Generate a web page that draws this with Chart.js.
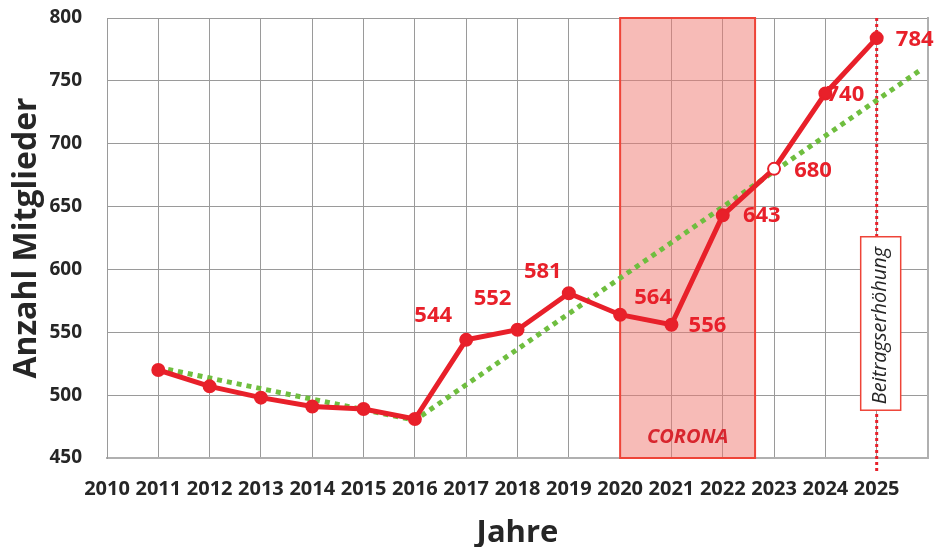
<!DOCTYPE html>
<html>
<head>
<meta charset="utf-8">
<script src="https://cdn.jsdelivr.net/npm/chart.js@4.4.1/dist/chart.umd.min.js"></script>
<style>
  html, body { margin: 0; padding: 0; background: #fff; }
  #wrap { width: 945px; height: 547px; }
</style>
</head>
<body>
<div id="wrap"><canvas id="chart"></canvas></div>
<script>
const years = [2011, 2012, 2013, 2014, 2015, 2016, 2017, 2018, 2019, 2020, 2021, 2022, 2023, 2024, 2025];
const members = [520, 507, 498, 491, 489, 481, 544, 552, 581, 564, 556, 643, 680, 740, 784];
const labelledYears = [2017, 2018, 2019, 2020, 2021, 2022, 2023, 2024, 2025];
const trendYears = [2011, 2016, 2025.83];
const trendValues = [522, 480, 758];
const coronaYears = [2020, 2022.63];
const increaseYear = 2025;

const red = "#e8202a";
const green = "#6fbe3f";
const ink = "#262626";
const font = "'Open Sans', 'DejaVu Sans', sans-serif";

// where each value label sits relative to its point
const labelOffsets = {
  2017: [-33, -24], 2018: [-25, -31], 2019: [-26, -22], 2020: [33, -17],
  2021: [36, 1], 2022: [39, 0], 2023: [39, 2], 2024: [20, 1], 2025: [38, 2],
};

const noPad = (s) => {
  s.paddingTop = 0;
  s.paddingBottom = 0;
  s.paddingLeft = 0;
  s.paddingRight = 0;
};

const overlays = {
  id: "overlays",
  beforeDatasetsDraw(chart) {
    const { ctx, chartArea: a, scales: { x, y } } = chart;
    const x0 = x.getPixelForValue(coronaYears[0]);
    const x1 = x.getPixelForValue(coronaYears[1]);
    ctx.save();
    ctx.fillStyle = "rgba(240, 120, 112, 0.5)";
    ctx.fillRect(x0, a.top, x1 - x0, a.bottom - a.top);
    ctx.strokeStyle = "#ee4438";
    ctx.lineWidth = 2;
    ctx.strokeRect(x0, a.top, x1 - x0, a.bottom - a.top);
    ctx.fillStyle = "#d8262e";
    ctx.font = `italic bold 20px ${font}`;
    ctx.textAlign = "center";
    ctx.textBaseline = "middle";
    ctx.fillText("CORONA", (x0 + x1) / 2, a.bottom - 21);

    const xv = x.getPixelForValue(increaseYear);
    ctx.strokeStyle = red;
    ctx.lineWidth = 3;
    ctx.setLineDash([3, 3]);
    ctx.beginPath();
    ctx.moveTo(xv, a.top);
    ctx.lineTo(xv, a.bottom + 14);
    ctx.stroke();
    ctx.setLineDash([]);

    const bt = y.getPixelForValue(626), bb = y.getPixelForValue(488);
    ctx.fillStyle = "#fff";
    ctx.fillRect(xv - 16, bt, 40, bb - bt);
    ctx.strokeStyle = "#ee4438";
    ctx.lineWidth = 1.5;
    ctx.strokeRect(xv - 16, bt, 40, bb - bt);
    ctx.translate(xv + 4, (bt + bb) / 2 + 2);
    ctx.rotate(-Math.PI / 2);
    ctx.fillStyle = ink;
    ctx.font = `italic 20px ${font}`;
    ctx.fillText("Beitragserhöhung", 0, 0);
    ctx.restore();
  },
  afterDatasetsDraw(chart) {
    const { ctx, scales: { x, y } } = chart;
    ctx.save();
    ctx.fillStyle = red;
    ctx.font = `bold 22px ${font}`;
    ctx.textAlign = "center";
    ctx.textBaseline = "middle";
    labelledYears.forEach((yr) => {
      const v = members[years.indexOf(yr)];
      const [dx, dy] = labelOffsets[yr];
      ctx.fillText(String(v), x.getPixelForValue(yr) + dx, y.getPixelForValue(v) + dy);
    });
    ctx.restore();
  },
};

new Chart(document.getElementById("chart"), {
  type: "line",
  plugins: [overlays],
  data: {
    datasets: [
      {
        data: years.map((yr, i) => ({ x: yr, y: members[i] })),
        borderColor: red,
        backgroundColor: red,
        borderWidth: 5,
        pointRadius: 6,
        pointBackgroundColor: years.map((yr) => (yr === 2023 ? "#fff" : red)),
        pointBorderWidth: 2,
        order: 1,
      },
      {
        data: trendYears.map((yr, i) => ({ x: yr, y: trendValues[i] })),
        borderColor: green,
        borderWidth: 5,
        borderDash: [5, 5],
        pointRadius: 0,
        order: 2,
      },
    ],
  },
  options: {
    responsive: true,
    maintainAspectRatio: false,
    animation: false,
    layout: { padding: { top: 18, right: 15, left: 0, bottom: 0 } },
    plugins: { legend: { display: false }, tooltip: { enabled: false } },
    scales: {
      x: {
        type: "linear",
        min: 2010,
        max: 2026,
        afterFit: (s) => { s.height = 89; noPad(s); },
        ticks: {
          stepSize: 1,
          autoSkip: false,
          maxRotation: 0,
          color: ink,
          font: { family: font, size: 20, weight: "bold" },
          padding: 19,
          callback: (v) => (v < 2026 ? String(v) : ""),
        },
        grid: { color: "#9a9a9a", lineWidth: 1, drawTicks: false },
        border: { color: "#b0b0b0", width: 2 },
        title: {
          display: true,
          text: "Jahre",
          color: ink,
          font: { family: font, size: 31, weight: "bold", lineHeight: 0.9 },
          padding: { top: 17, bottom: 0 },
        },
      },
      y: {
        min: 450,
        max: 800,
        afterFit: (s) => { s.width = 107; noPad(s); },
        ticks: {
          stepSize: 50,
          color: ink,
          font: { family: font, size: 19, weight: "bold" },
          padding: 25,
        },
        grid: { color: "#9a9a9a", lineWidth: 1, drawTicks: false },
        border: { color: "#9a9a9a", width: 1 },
        title: {
          display: true,
          text: "Anzahl Mitglieder",
          color: ink,
          font: { family: font, size: 32, weight: "bold" },
          padding: { top: 8, bottom: 0 },
        },
      },
      x2: {
        type: "linear",
        position: "right",
        display: true,
        afterFit: (s) => { s.width = 2; noPad(s); },
        ticks: { display: false },
        grid: { display: false },
        border: { color: "#b0b0b0", width: 2 },
      },
    },
  },
});
</script>
</body>
</html>
